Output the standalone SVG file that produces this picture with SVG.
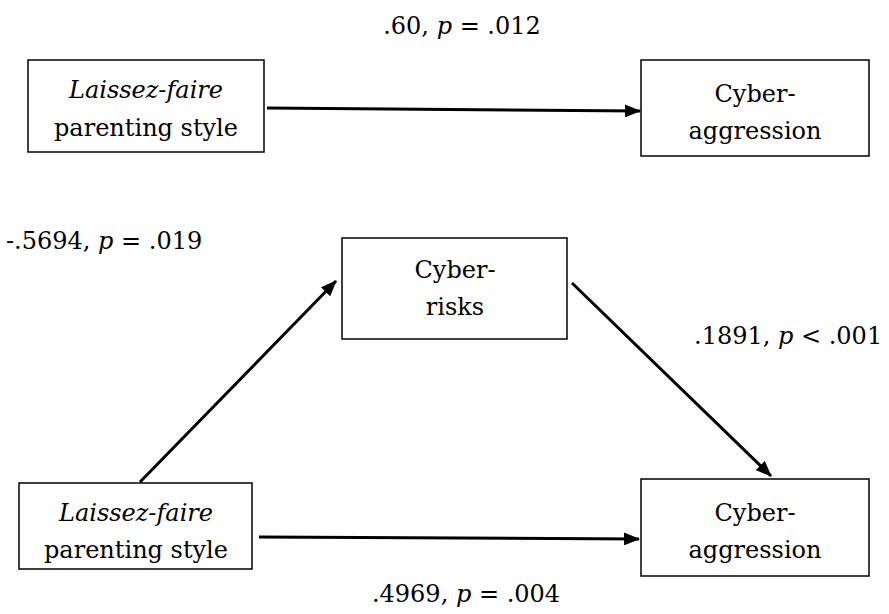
<svg xmlns="http://www.w3.org/2000/svg" width="889" height="614" viewBox="0 0 889 614">
<style>
.box{fill:#fff;stroke:#000;stroke-width:1.5}
text{font-family:"DejaVu Serif",serif;font-size:24px;fill:#000}
.t{text-anchor:middle}
.c{stroke:#000;stroke-width:3;fill:none;marker-end:url(#ah)}
</style>
<defs>
<marker id="ah" markerWidth="16" markerHeight="13" refX="15" refY="6.5" orient="auto" markerUnits="userSpaceOnUse" viewBox="0 0 16 13">
<path d="M0,0 L16,6.5 L0,13 z" fill="#000"/>
</marker>
</defs>
<rect width="889" height="614" fill="#fff"/>
<g id="connectors">
<line class="c" x1="267" y1="108" x2="640" y2="111"/>
<line class="c" x1="140" y1="482" x2="336" y2="281"/>
<line class="c" x1="572" y1="283" x2="771" y2="476"/>
<line class="c" x1="259" y1="537" x2="639" y2="539"/>
</g>
<g id="n1"><rect class="box" x="28" y="60" width="236" height="92"/>
<text class="t" x="146" y="98" font-style="italic">Laissez-faire</text>
<text class="t" x="146" y="136">parenting style</text></g>
<g id="n2"><rect class="box" x="641" y="60" width="228" height="96"/>
<text class="t" x="755" y="102">Cyber-</text>
<text class="t" x="755" y="139">aggression</text></g>
<g id="n3"><rect class="box" x="342" y="238" width="225" height="101"/>
<text class="t" x="455" y="278">Cyber-</text>
<text class="t" x="455" y="315">risks</text></g>
<g id="n4"><rect class="box" x="19" y="483" width="233" height="86"/>
<text class="t" x="136" y="521" font-style="italic">Laissez-faire</text>
<text class="t" x="136" y="558">parenting style</text></g>
<g id="n5"><rect class="box" x="641" y="479" width="228" height="97"/>
<text class="t" x="755" y="521">Cyber-</text>
<text class="t" x="755" y="558">aggression</text></g>
<g id="labels">
<text class="t" x="462" y="34">.60, <tspan font-style="italic">p</tspan> = .012</text>
<text x="6" y="249">-.5694, <tspan font-style="italic">p</tspan> = .019</text>
<text x="694" y="344">.1891, <tspan font-style="italic">p</tspan> &lt; .001</text>
<text class="t" x="466" y="602">.4969, <tspan font-style="italic">p</tspan> = .004</text>
</g>
</svg>
